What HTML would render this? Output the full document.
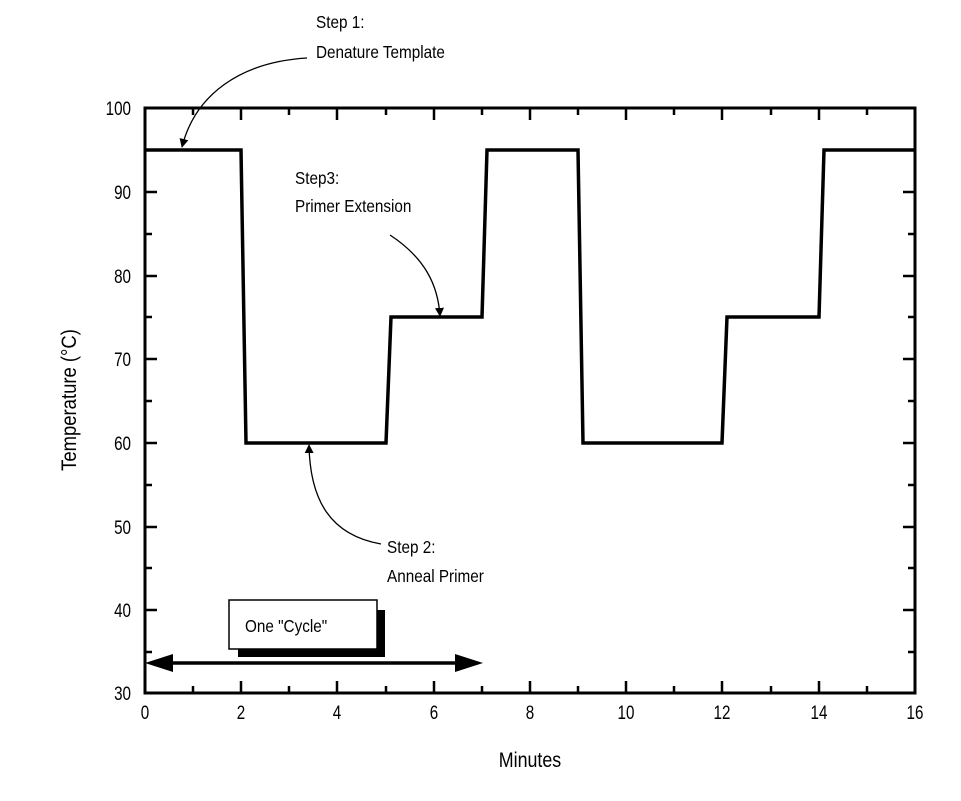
<!DOCTYPE html>
<html><head><style>body{margin:0;background:#fff}svg{display:block}text{font-family:"Liberation Sans",sans-serif;fill:#000}</style></head>
<body>
<svg width="961" height="801" viewBox="0 0 961 801" xmlns="http://www.w3.org/2000/svg">
<defs>
<marker id="ah" viewBox="0 0 10 10" refX="9" refY="5" markerWidth="9" markerHeight="9" orient="auto-start-reverse" markerUnits="userSpaceOnUse"><path d="M0,0 L10,5 L0,10 z" fill="#000"/></marker>
</defs>
<rect x="145" y="108" width="770" height="585" fill="none" stroke="#000" stroke-width="3"/>
<g stroke="#000" stroke-width="2.5">
<path d="M193,693v-7M241,693v-12M289,693v-7M337,693v-12M386,693v-7M434,693v-12M482,693v-7M530,693v-12M578,693v-7M626,693v-12M674,693v-7M722,693v-12M771,693v-7M819,693v-12M867,693v-7"/>
<path d="M193,108v7M241,108v12M289,108v7M337,108v12M386,108v7M434,108v12M482,108v7M530,108v12M578,108v7M626,108v12M674,108v7M722,108v12M771,108v7M819,108v12M867,108v7"/>
<path d="M145,150h7M145,192h12M145,234h7M145,276h12M145,317h7M145,359h12M145,401h7M145,443h12M145,485h7M145,527h12M145,568h7M145,610h12M145,652h7"/>
<path d="M915,150h-7M915,192h-12M915,234h-7M915,276h-12M915,317h-7M915,359h-12M915,401h-7M915,443h-12M915,485h-7M915,527h-12M915,568h-7M915,610h-12M915,652h-7"/>
</g>
<polyline fill="none" stroke="#000" stroke-width="3.5" points="145,150 241,150 246,443 386,443 391,317 482,317 487,150 578,150 583,443 722,443 727,317 819,317 824,150 915,150"/>
<g font-size="19" text-anchor="end">
<text transform="translate(131,115) scale(0.8,1)">100</text>
<text transform="translate(131,199) scale(0.8,1)">90</text>
<text transform="translate(131,283) scale(0.8,1)">80</text>
<text transform="translate(131,366) scale(0.8,1)">70</text>
<text transform="translate(131,450) scale(0.8,1)">60</text>
<text transform="translate(131,534) scale(0.8,1)">50</text>
<text transform="translate(131,617) scale(0.8,1)">40</text>
<text transform="translate(131,700) scale(0.8,1)">30</text>
</g>
<g font-size="19" text-anchor="middle">
<text transform="translate(145,719) scale(0.8,1)">0</text>
<text transform="translate(241,719) scale(0.8,1)">2</text>
<text transform="translate(337,719) scale(0.8,1)">4</text>
<text transform="translate(434,719) scale(0.8,1)">6</text>
<text transform="translate(530,719) scale(0.8,1)">8</text>
<text transform="translate(626,719) scale(0.8,1)">10</text>
<text transform="translate(722,719) scale(0.8,1)">12</text>
<text transform="translate(819,719) scale(0.8,1)">14</text>
<text transform="translate(915,719) scale(0.8,1)">16</text>
</g>
<text transform="translate(530,767) scale(0.85,1)" font-size="21" text-anchor="middle">Minutes</text>
<text transform="translate(76,400) rotate(-90) scale(0.88,1)" font-size="21" text-anchor="middle">Temperature (°C)</text>
<g font-size="18">
<text transform="translate(316,28) scale(0.85,1)">Step 1:</text>
<text transform="translate(316,58) scale(0.85,1)">Denature Template</text>
<text transform="translate(295,184) scale(0.85,1)">Step3:</text>
<text transform="translate(295,212) scale(0.85,1)">Primer Extension</text>
<text transform="translate(387,553) scale(0.85,1)">Step 2:</text>
<text transform="translate(387,582) scale(0.85,1)">Anneal Primer</text>
</g>
<g fill="none" stroke="#000" stroke-width="1.3">
<path d="M307,58 C240,62 195,95 182,147" marker-end="url(#ah)"/>
<path d="M390,235 C425,258 438,285 440,316" marker-end="url(#ah)"/>
<path d="M381,544 C330,535 310,500 309,445" marker-end="url(#ah)"/>
</g>
<rect x="238" y="610" width="147" height="47" fill="#000"/>
<rect x="229" y="600" width="148" height="49" fill="#fff" stroke="#000" stroke-width="1.5"/>
<text transform="translate(245,632) scale(0.85,1)" font-size="18">One "Cycle"</text>
<line x1="160" y1="663" x2="460" y2="663" stroke="#000" stroke-width="3.5"/>
<path d="M145,663 L173,654 L173,672 z" fill="#000"/>
<path d="M483,663 L455,654 L455,672 z" fill="#000"/>
</svg>
</body></html>
